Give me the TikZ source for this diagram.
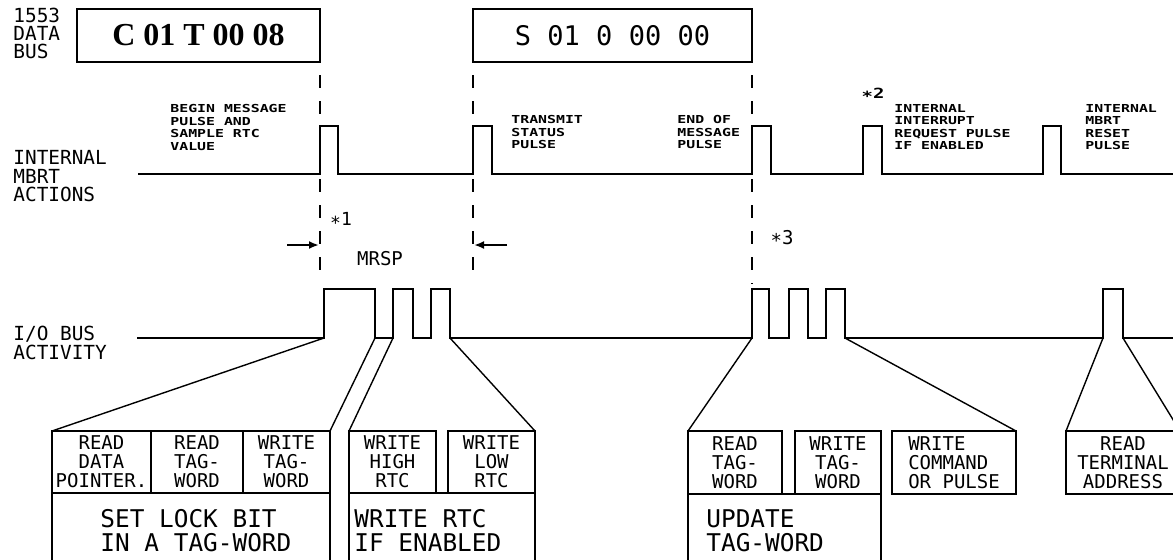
\documentclass[tikz,border=0pt]{standalone}
\usepackage{fontspec}
\usetikzlibrary{arrows.meta}
\newfontfamily\plotfont{DejaVu Sans Mono}
\newfontfamily\pulsefont[FakeStretch=1.35]{DejaVu Sans Mono Bold}
\newfontfamily\cmdfont{Liberation Serif Bold}

\begin{document}
\begin{tikzpicture}[x=0.5pt,y=-0.5pt,
    sig/.style={line width=1pt},
    busdash/.style={line width=1pt, dash pattern=on 6.5pt off 6.5pt, dash phase=6.5pt},
    leader/.style={line width=0.7pt},
    wordbox/.style={draw, line width=1pt, inner sep=0pt, outer sep=0pt, anchor=north west, minimum height=26.5pt},
    cell/.style={draw, line width=1pt, inner sep=0pt, outer sep=0pt, anchor=north west, align=center, text depth=0pt,
        font=\plotfont\fontsize{9.5}{9.5}\selectfont},
    lbl/.style={inner sep=0pt, anchor=north west, align=left},
    pulselbl/.style={lbl, font=\pulsefont\fontsize{5.5}{6.25}\selectfont}]
    \useasboundingbox (0,0) rectangle (1173,559);

    % row titles
    \node [lbl, font=\plotfont\fontsize{9.7}{9}\selectfont] (buslbl) at (13,8) {1553\\DATA\\BUS};
    \node [lbl, font=\plotfont\fontsize{9.7}{9.25}\selectfont] (mbrtlbl) at (13,150) {INTERNAL\\MBRT\\ACTIONS};
    \node [lbl, font=\plotfont\fontsize{9.7}{9.25}\selectfont] (iolbl) at (13,326) {I/O BUS\\ACTIVITY};

    % 1553 words
    \node [wordbox, minimum width=121.5pt, font=\cmdfont\fontsize{16}{16}\selectfont] (cmdword) at (77,9) {C 01 T 00 08};
    \node [wordbox, minimum width=139.5pt, font=\plotfont\fontsize{13.5}{13.5}\selectfont] (stsword) at (473,9) {S 01 0 00 00};

    \draw [busdash] (cmdword.south east) -- ++(0,215);
    \draw [busdash] (stsword.south west) -- ++(0,215);
    \draw [busdash] (stsword.south east) -- ++(0,222);

    % internal MBRT actions
    \draw [sig] (138,174) \foreach \a/\b in {320/338,473/492,752/771,863/882,1043/1061}
        { -- (\a,174) -- (\a,126) -- (\b,126) -- (\b,174)} -- (1180,174);

    \node [pulselbl] (bgnlbl) at (170,104) {BEGIN MESSAGE\\PULSE AND\\SAMPLE RTC\\VALUE};
    \node [pulselbl] (txlbl) at (511,115) {TRANSMIT\\STATUS\\PULSE};
    \node [pulselbl] (eomlbl) at (677,115) {END OF\\MESSAGE\\PULSE};
    \node [pulselbl] (irqlbl) at (894,104) {INTERNAL\\INTERRUPT\\REQUEST PULSE\\IF ENABLED};
    \node [pulselbl] (rstlbl) at (1085,104) {INTERNAL\\MBRT\\RESET\\PULSE};
    \node [inner sep=0pt, font=\pulsefont\fontsize{7}{7}\selectfont] (star2) at (873,95) {\raisebox{-.2em}{*}2};

    % MRSP
    \node [inner sep=0pt, font=\plotfont\fontsize{9}{9}\selectfont] (star1) at (341,221) {\raisebox{-.2em}{*}1};
    \node [inner sep=0pt, font=\plotfont\fontsize{9.5}{9.5}\selectfont] (mrsp) at (380,259) {MRSP};
    \node [inner sep=0pt, font=\plotfont\fontsize{9.5}{9.5}\selectfont] (star3) at (782,239) {\raisebox{-.2em}{*}3};
    \coordinate (mrspL) at (319,245);
    \coordinate (mrspR) at (474,245);
    \draw [line width=1pt, -{Latex[length=5pt,width=4pt]}] (287,245) -- (mrspL);
    \draw [line width=1pt, -{Latex[length=5pt,width=4pt]}] (507,245) -- (mrspR);

    % I/O bus activity
    \draw [sig] (137,338) \foreach \a/\b in {324/375,393/413,431/450,752/769,789/808,826/845,1103/1123}
        { -- (\a,338) -- (\a,289) -- (\b,289) -- (\b,338)} -- (1180,338);
    \coordinate (ioA) at (324,338);
    \coordinate (ioAe) at (375,338);
    \coordinate (ioB) at (393,338);
    \coordinate (ioCe) at (450,338);
    \coordinate (ioD) at (752,338);
    \coordinate (ioFe) at (845,338);
    \coordinate (ioG) at (1103,338);
    \coordinate (ioGe) at (1123,338);

    % I/O cycles
    \node [cell, minimum width=49.5pt, minimum height=31pt] (rdp) at (52,431) {READ\\DATA\\POINTER.};
    \node [cell, minimum width=46pt, minimum height=31pt] (rtw) at (151,431) {READ\\TAG-\\WORD};
    \node [cell, minimum width=43.5pt, minimum height=31pt] (wtw) at (243,431) {WRITE\\TAG-\\WORD};
    \node [cell, minimum width=139pt, minimum height=41pt] (lockbox) at (52,493) {};
    \node [lbl, font=\plotfont\fontsize{12.2}{12}\selectfont] (locktxt) at (100,509) {SET LOCK BIT\\IN A TAG-WORD};

    \node [cell, minimum width=43.5pt, minimum height=31pt] (whr) at (349,431) {WRITE\\HIGH\\RTC};
    \node [cell, minimum width=43.5pt, minimum height=31pt] (wlr) at (448,431) {WRITE\\LOW\\RTC};
    \node [cell, minimum width=93pt, minimum height=41pt] (rtcbox) at (349,493) {};
    \node [lbl, font=\plotfont\fontsize{12.2}{12}\selectfont] (rtctxt) at (354,509) {WRITE RTC\\IF ENABLED};

    \node [cell, minimum width=47pt, minimum height=31.5pt] (rtw2) at (688,431) {READ\\TAG-\\WORD};
    \node [cell, minimum width=43pt, minimum height=31.5pt] (wtw2) at (795,431) {WRITE\\TAG-\\WORD};
    \node [cell, minimum width=96.5pt, minimum height=41pt] (updbox) at (688,494) {};
    \node [lbl, font=\plotfont\fontsize{12.2}{12}\selectfont] (updtxt) at (706,509) {UPDATE\\TAG-WORD};
    \node [cell, align=left, minimum width=62pt, minimum height=31.5pt] (wcp) at (892,431) {WRITE\\COMMAND\\OR PULSE};
    \node [cell, minimum width=57pt, minimum height=31.5pt] (rta) at (1066,431) {READ\\TERMINAL\\ADDRESS};

    \draw [leader] (ioA) -- (rdp.north west);
    \draw [leader] (ioAe) -- (wtw.north east);
    \draw [leader] (ioB) -- (whr.north west);
    \draw [leader] (ioCe) -- (wlr.north east);
    \draw [leader] (ioD) -- (rtw2.north west);
    \draw [leader] (ioFe) -- (wcp.north east);
    \draw [leader] (ioG) -- (rta.north west);
    \draw [leader] (ioGe) -- (rta.north east);
\end{tikzpicture}
\end{document}
